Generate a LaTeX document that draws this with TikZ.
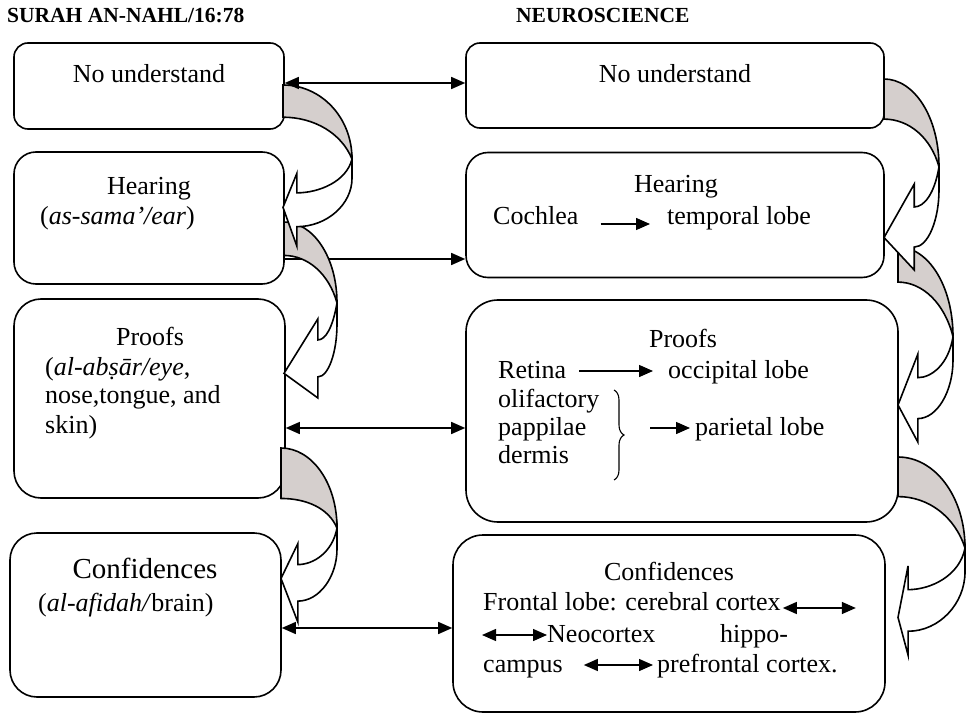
\documentclass[tikz,border=0pt]{standalone}
\usepackage{fontspec}
\setmainfont{Liberation Serif}
\usetikzlibrary{arrows.meta,decorations.pathreplacing}
\definecolor{bandgrey}{RGB}{213,207,205}
% curved arrow: x, y, width, height, shaft, tip, band
\newcommand\bentarrow[7]{%
  \begin{scope}[shift={(#1,#2)},xscale=#3,yscale=#4]
    \filldraw[bent,fill=bandgrey] (0,0) .. controls (0.55,0) and (1,0.2) .. (1,0.46)
      .. controls (0.85,{0.5*#7+0.2}) and (0.45,#7) .. (0,#7) -- cycle;
    \filldraw[bent,fill=white] (1,0.46) -- (1,0.58)
      .. controls (1,0.74) and ({#5+0.55*(1-#5)},0.88) .. (#5,0.88)
      -- (#5,1) -- (0,#6) -- (#5,0.55) -- (#5,0.67)
      .. controls ({#5+0.4*(1-#5)},0.67) and (0.92,0.6) .. (1,0.46) -- cycle;
  \end{scope}}
\begin{document}
\begin{tikzpicture}[x=1pt,y=-1pt,
  box/.style={draw,line width=1.6pt,rectangle,inner sep=0pt},
  txt/.style={inner sep=0pt,font=\fontsize{26}{29}\selectfont},
  head/.style={inner sep=0pt,anchor=base west,font=\fontsize{21.5}{24}\selectfont\bfseries},
  link/.style={line width=1.4pt,-{Triangle[length=14pt,width=12pt]}},
  dlink/.style={line width=1.4pt,{Triangle[length=14pt,width=12pt]}-{Triangle[length=14pt,width=12pt]}},
  bent/.style={line width=1.6pt}]
\useasboundingbox (0,0) rectangle (966,719);

\node [head] (hq) at (7,23) {SURAH AN-NAHL/16:78};
\node [head] (hn) at (516,23) {NEUROSCIENCE};

% boxes
\node [box,rounded corners=14pt,minimum width=270pt,minimum height=86pt] (L1) at (149,86) {};
\node [box,rounded corners=22pt,minimum width=270pt,minimum height=132pt] (L2) at (149,218) {};
\node [box,rounded corners=27pt,minimum width=271pt,minimum height=199pt] (L3) at (149.5,398.5) {};
\node [box,rounded corners=27pt,minimum width=271pt,minimum height=164pt] (L4) at (145.5,615) {};
\node [box,rounded corners=14pt,minimum width=418pt,minimum height=85pt] (R1) at (675,85.5) {};
\node [box,rounded corners=22pt,minimum width=418pt,minimum height=125pt] (R2) at (675,215) {};
\node [box,rounded corners=32pt,minimum width=432pt,minimum height=222pt] (R3) at (682,411) {};
\node [box,rounded corners=30pt,minimum width=432pt,minimum height=177pt] (R4) at (669,623.5) {};

% left texts
\node [txt,anchor=base] (lno) at (149,83) {No understand};
\node [txt,anchor=base] (lhear) at (149,195) {Hearing};
\node [txt,anchor=base west] (lear) at (40,225) {(\textit{as-sama’/ear})};
\node [txt,anchor=base] (lproof) at (150,345) {Proofs};
\node [txt,anchor=base west] (leye) at (45,375) {(\textit{al-abṣār/eye},};
\node [txt,anchor=base west] (lnose) at (45,403) {nose,tongue, and};
\node [txt,anchor=base west] (lskin) at (45,433) {skin)};
\node [txt,anchor=base,font=\fontsize{29}{32}\selectfont] (lconf) at (145,578) {Confidences};
\node [txt,anchor=base west] (lbrain) at (38,611) {(\textit{al-afidah/}brain)};

% right texts
\node [txt,anchor=base] (rno) at (675,83) {No understand};
\node [txt,anchor=base] (rhear) at (676,193) {Hearing};
\node [txt,anchor=base west] (coch) at (493,225) {Cochlea};
\node [txt,anchor=base west] (temp) at (667,225) {temporal lobe};
\node [txt,anchor=base] (rproof) at (683,347) {Proofs};
\node [txt,anchor=base west] (ret) at (498,378) {Retina};
\node [txt,anchor=base west] (occ) at (668,378) {occipital lobe};
\node [txt,anchor=base west] (olif) at (498,407) {olifactory};
\node [txt,anchor=base west] (papp) at (498,435) {pappilae};
\node [txt,anchor=base west] (derm) at (498,463) {dermis};
\node [txt,anchor=base west] (pari) at (695,435) {parietal lobe};
\node [txt,anchor=base] (rconf) at (669,580) {Confidences};
\node [txt,anchor=base west] (front) at (483,610) {Frontal lobe: cerebral cortex};
\node [txt,anchor=base west] (neo) at (547,642) {Neocortex};
\node [txt,anchor=base west] (hipp) at (720,642) {hippo-};
\node [txt,anchor=base west] (camp) at (483,672) {campus};
\node [txt,anchor=base west] (pref) at (657,672) {prefrontal cortex.};

% arrows inside the boxes
\draw [link,shorten <=22pt,shorten >=17pt] ([yshift=1pt]coch.base east) -- ([yshift=1pt]temp.base west);
\draw [link,shorten <=13pt,shorten >=15pt] ([yshift=7pt]ret.base east) -- ([yshift=7pt]occ.base west);
\draw [line width=1.1pt,decorate,decoration={brace,amplitude=10pt}] (614,390) -- (614,480);
\draw [link] ([xshift=-45pt,yshift=7pt]pari.base west) -- ([xshift=-5pt,yshift=7pt]pari.base west);
\draw [dlink] ([xshift=2pt,yshift=2pt]front.base east) -- +(73,0);
\draw [dlink] ([xshift=-65pt,yshift=7pt]neo.base west) -- ([yshift=7pt]neo.base west);
\draw [dlink,shorten <=21pt,shorten >=4pt] ([yshift=7pt]camp.base east) -- ([yshift=7pt]pref.base west);

% connectors between the columns
\draw [link] ([yshift=-41pt]L2.east) -- ([yshift=-41pt]L2.east -| R2.west);

% curved arrows
\bentarrow{281}{448}{56}{174}{0.3}{0.75}{0.29}
\bentarrow{284}{222}{53}{176}{0.64}{0.86}{0.19}
\bentarrow{283}{85}{69}{161}{0.2}{0.76}{0.2}
\bentarrow{898}{457}{67}{198}{0.15}{0.81}{0.2}
\bentarrow{898}{247}{55}{195}{0.36}{0.81}{0.18}
\bentarrow{884}{79}{55}{191}{0.55}{0.83}{0.21}

\draw [dlink] ([yshift=3pt]L1.east) -- ([yshift=3pt]L1.east -| R1.west);
\draw [dlink] ([yshift=-29.5pt]L3.east) -- ([yshift=-29.5pt]L3.east -| R3.west);
\draw [dlink] ([yshift=-13pt]L4.east) -- ([yshift=-13pt]L4.east -| R4.west);
\end{tikzpicture}
\end{document}
